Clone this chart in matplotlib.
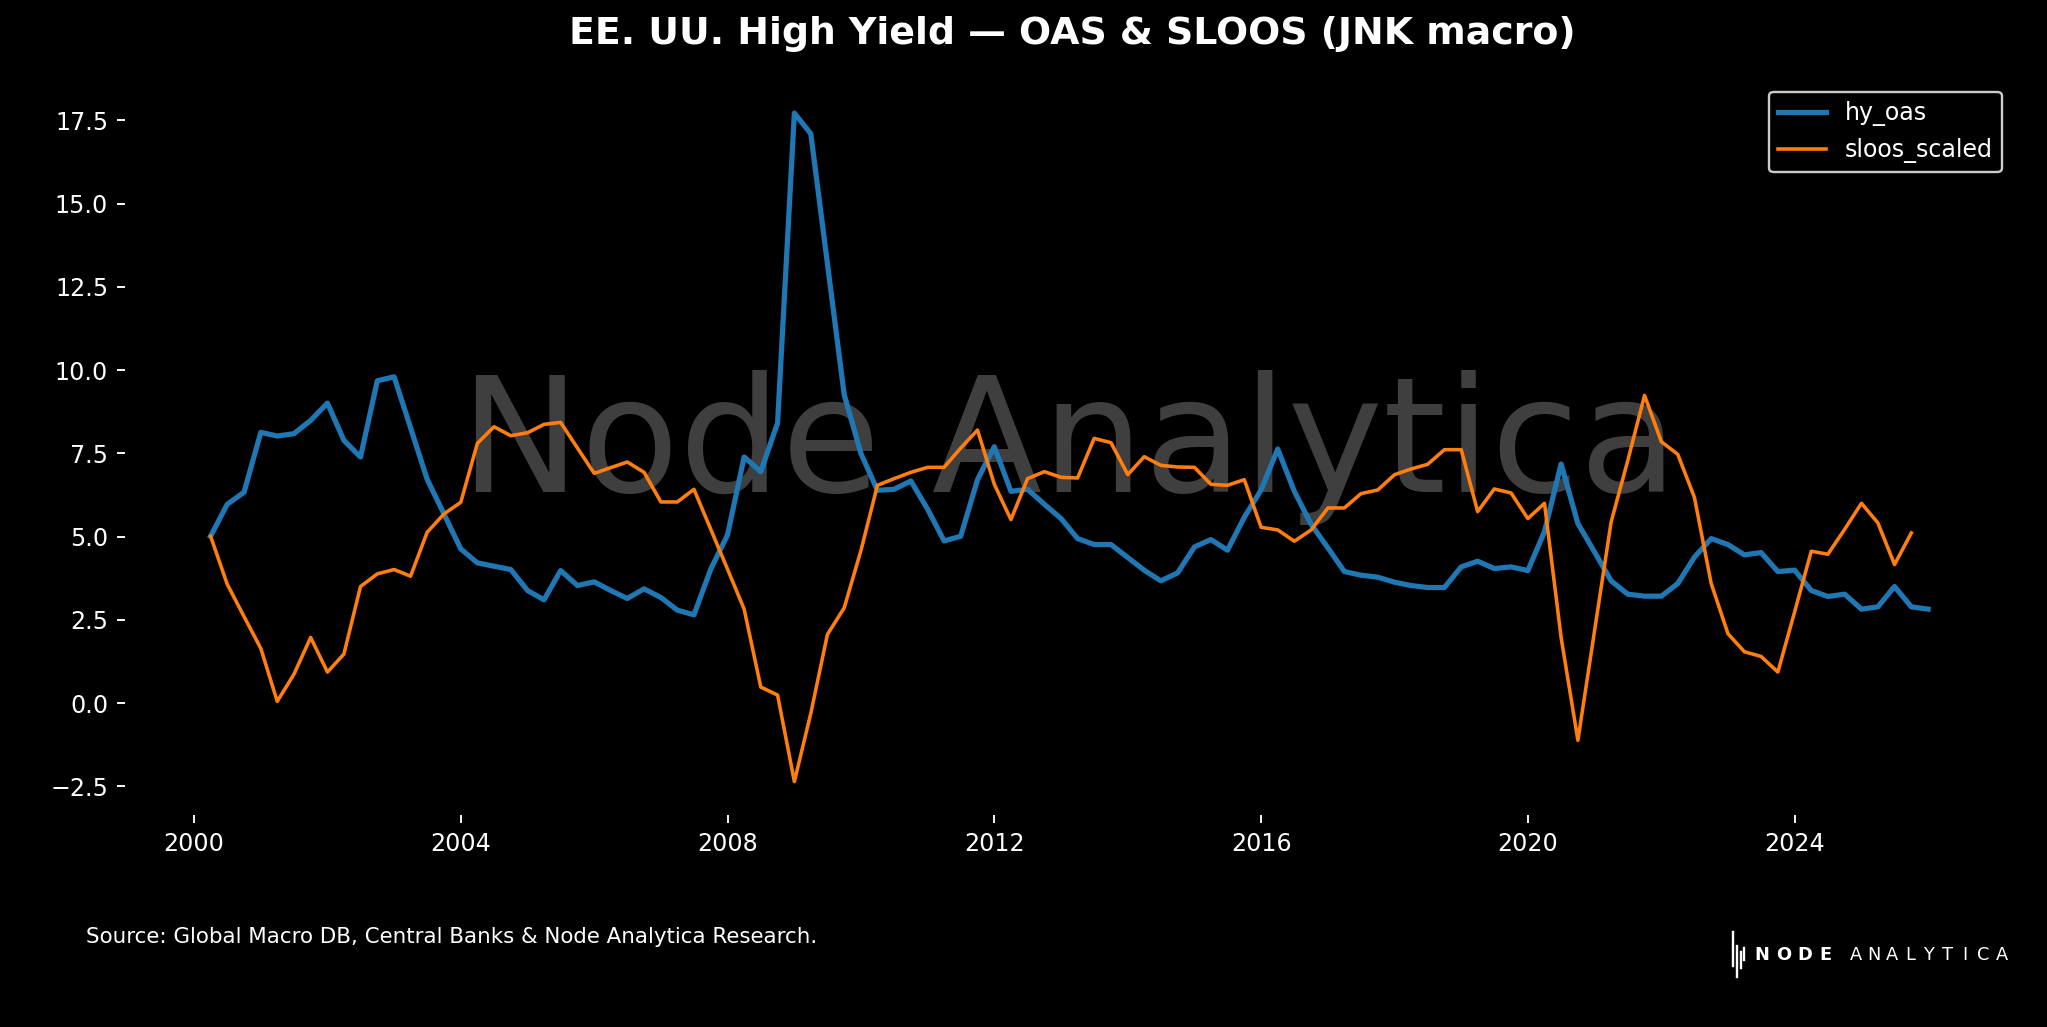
import numpy as np
import pandas as pd
import matplotlib
matplotlib.use("Agg")
from matplotlib import pyplot as plt
import matplotlib.dates as mdates

# quarterly observations, 2000Q1 .. 2025Q4
dates = pd.date_range("2000-03-31", "2025-12-31", freq="QE")

hy_oas = [
    5.01, 5.97, 6.33, 8.13, 8.02, 8.09, 8.49, 9.01, 7.89, 7.39,
    9.68, 9.80, 8.27, 6.72, 5.68, 4.63, 4.21, 4.11, 4.01, 3.38,
    3.10, 3.98, 3.53, 3.64, 3.38, 3.14, 3.43, 3.17, 2.79, 2.65,
    4.02, 5.05, 7.39, 6.95, 8.41, 17.72, 17.10, 13.20, 9.26, 7.49,
    6.39, 6.42, 6.67, 5.82, 4.87, 5.01, 6.71, 7.70, 6.36, 6.42,
    5.97, 5.54, 4.94, 4.76, 4.76, 4.37, 3.99, 3.67, 3.91, 4.69,
    4.91, 4.59, 5.58, 6.40, 7.63, 6.36, 5.37, 4.66, 3.95, 3.84,
    3.78, 3.63, 3.53, 3.47, 3.47, 4.09, 4.26, 4.04, 4.09, 3.98,
    5.15, 7.18, 5.39, 4.53, 3.67, 3.27, 3.21, 3.21, 3.59, 4.38,
    4.94, 4.76, 4.45, 4.52, 3.95, 3.99, 3.38, 3.20, 3.27, 2.82,
    2.89, 3.50, 2.89, 2.82,
]

sloos_scaled = [
    5.01, 3.57, 2.60, 1.64, 0.05, 0.86, 1.97, 0.93, 1.47, 3.50,
    3.88, 4.01, 3.81, 5.13, 5.68, 6.03, 7.80, 8.30, 8.03, 8.12,
    8.37, 8.43, 7.66, 6.90, 7.07, 7.24, 6.93, 6.04, 6.04, 6.42,
    5.22, 4.02, 2.82, 0.48, 0.24, -2.36, -0.31, 2.06, 2.86, 4.59,
    6.54, 6.74, 6.93, 7.08, 7.08, 7.66, 8.20, 6.57, 5.51, 6.74,
    6.95, 6.78, 6.76, 7.95, 7.82, 6.86, 7.40, 7.14, 7.09, 7.08,
    6.57, 6.54, 6.71, 5.28, 5.20, 4.86, 5.20, 5.86, 5.86, 6.29,
    6.40, 6.86, 7.03, 7.17, 7.61, 7.61, 5.75, 6.43, 6.31, 5.54,
    6.00, 1.97, -1.12, 2.20, 5.44, 7.28, 9.24, 7.85, 7.47, 6.18,
    3.59, 2.08, 1.54, 1.40, 0.93, 2.74, 4.56, 4.47, 5.22, 6.00,
    5.41, 4.16, 5.11, np.nan,
]

title = "EE. UU. High Yield \u2014 OAS & SLOOS (JNK macro)"
source = "Source: Global Macro DB, Central Banks & Node Analytica Research."

df = pd.DataFrame({"hy_oas": hy_oas, "sloos_scaled": sloos_scaled}, index=dates)

plt.rcParams["font.family"] = ["DejaVu Sans"]

DPI = 170.67
fig = plt.figure(figsize=(2048 / DPI, 1027 / DPI), dpi=DPI, facecolor="black")
ax = fig.add_axes([0.0609, 0.2064, 0.9225, 0.716])
ax.set_facecolor("black")

# watermark behind the lines
ax.text(0.5, 0.5, "Node Analytica", transform=ax.transAxes, fontsize=68,
        color="white", alpha=0.25, ha="center", va="center", zorder=0)

ax.plot(df.index, df["hy_oas"], color="#1f77b4", lw=2.2, label="hy_oas", zorder=3)
ax.plot(df.index, df["sloos_scaled"], color="#ff7f0e", lw=1.5, label="sloos_scaled", zorder=3)

ax.xaxis.set_major_locator(mdates.YearLocator(4))
ax.xaxis.set_major_formatter(mdates.DateFormatter("%Y"))
ax.set_yticks(np.arange(-2.5, 17.6, 2.5))

for s in ax.spines.values():
    s.set_visible(False)
ax.tick_params(colors="white", labelsize=10)

leg = ax.legend(loc="upper right", facecolor="black", edgecolor="#cccccc",
                labelcolor="white", fontsize=10, framealpha=1.0)

fig.text(0.5235, 0.967, title, ha="center", va="center", color="white",
         fontsize=16, fontweight="bold")
fig.text(0.042, 0.088, source, ha="left", va="center", color="white", fontsize=9)

# logo: small bar mark + spaced wordmark
for bx, y0, y1 in [(0.8460, 0.0590, 0.0925), (0.8480, 0.0490, 0.0790),
                   (0.8500, 0.0575, 0.0735), (0.8516, 0.0650, 0.0770)]:
    fig.add_artist(plt.Line2D([bx, bx], [y0, y1], color="white", lw=1.0,
                              transform=fig.transFigure))
for k, ch in enumerate("NODE"):
    fig.text(0.8603 + k * 0.0104, 0.0700, ch, color="white", fontsize=7.5,
             fontweight="bold", ha="center", va="center")
for k, ch in enumerate("ANALYTICA"):
    fig.text(0.9062 + k * 0.0089, 0.0700, ch, color="white", fontsize=7.5,
             ha="center", va="center")

fig.savefig("out.png", dpi=DPI, facecolor="black")
